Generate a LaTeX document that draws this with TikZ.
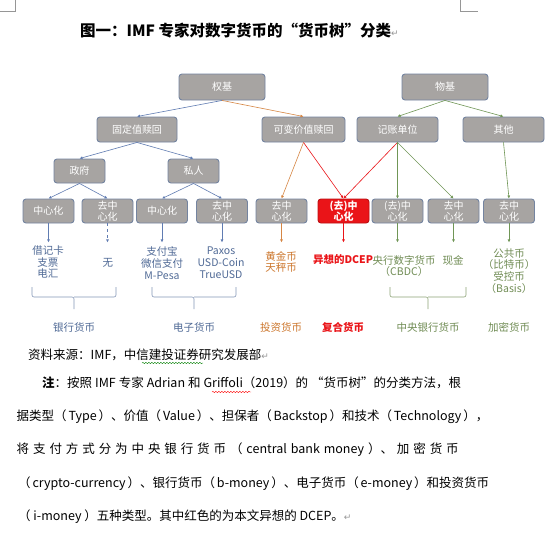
\documentclass[tikz,border=0pt]{standalone}
\usepackage{fontspec}
\setmainfont{Noto Sans CJK SC}
\newfontfamily\symfont{DejaVu Sans}
\usetikzlibrary{arrows.meta,decorations.pathmorphing}

\definecolor{boxfill}{RGB}{167,164,162}
\definecolor{boxline}{RGB}{116,132,160}
\definecolor{fixblue}{RGB}{96,124,178}
\definecolor{varorange}{RGB}{214,134,68}
\definecolor{dcepred}{RGB}{234,20,24}
\definecolor{goodsgreen}{RGB}{112,150,86}
\definecolor{bluetext}{RGB}{80,106,150}
\definecolor{orangetext}{RGB}{204,118,44}
\definecolor{greentext}{RGB}{112,140,84}
\definecolor{markgray}{RGB}{150,150,150}

\tikzset{
  tbox/.style={draw=boxline, fill=boxfill, rounded corners=3pt, line width=0.9pt,
    text=white, font=\fontsize{10}{11}\selectfont, align=center, inner sep=1pt,
    minimum width=51pt, minimum height=24pt},
  redbox/.style={tbox, draw=dcepred!80!black, fill=dcepred, font=\fontsize{10}{11}\bfseries},
  edge/.style={line width=0.6pt, -{Latex[length=3pt,width=3pt]}},
  leaf/.style={font=\fontsize{10.5}{11.8}\selectfont, align=center, inner sep=0pt},
  label/.style={font=\fontsize{10.5}{12}\selectfont, inner sep=0pt},
  brace/.style={line width=0.6pt, rounded corners=2pt},
  body/.style={font=\fontsize{12.5}{14}\selectfont, anchor=west, inner sep=0pt},
}

\begin{document}
\begin{tikzpicture}[x=1pt,y=-1pt]
\useasboundingbox[fill=white] (0,0) rectangle (550,538);
% page corner marks
\draw[markgray,line width=0.8pt] (15,0) -- (15,11) -- (0,11);
\draw[markgray,line width=0.8pt] (460,0) -- (460,11) -- (478,11);

\node[anchor=west,inner sep=0pt,font=\fontsize{15.5}{17}\bfseries] (title) at (80,31)
  {图一：IMF 专家对数字货币的“货币树”分类{\symfont\mdseries\fontsize{9}{9}\selectfont\color{markgray}↵}};

% tree
\node[tbox,minimum width=86pt,minimum height=26pt] (quanji) at (222,87) {权基};
\node[tbox,minimum width=86pt,minimum height=26pt] (wuji) at (445,87) {物基};

\node[tbox,minimum width=80pt,minimum height=25pt] (guding) at (137,129.5) {固定值赎回};
\node[tbox,minimum width=83pt,minimum height=25pt] (kebian) at (303.5,129.5) {可变价值赎回};
\node[tbox,minimum width=81pt,minimum height=25pt] (jizhang) at (397.5,129.5) {记账单位};
\node[tbox,minimum width=81pt,minimum height=25pt] (qita) at (503.5,129.5) {其他};

\node[tbox] (zhengfu) at (79.5,171) {政府};
\node[tbox] (siren) at (193.5,171) {私人};

\node[tbox] (d1) at (48.5,211) {中心化};
\node[tbox] (d2) at (107.5,211) {去中\\心化};
\node[tbox] (d3) at (162,211) {中心化};
\node[tbox] (d4) at (222,211) {去中\\心化};
\node[tbox] (d5) at (281.5,211) {去中\\心化};
\node[redbox] (d6) at (343.5,211) {(去)中\\心化};
\node[tbox] (d7) at (397.5,211) {(去)中\\心化};
\node[tbox] (d8) at (453.5,211) {去中\\心化};
\node[tbox] (d9) at (509,211) {去中\\心化};

\draw[edge,fixblue] (quanji.south) -- (guding.north);
\draw[edge,varorange] (quanji.south) -- (kebian.north);
\draw[edge,goodsgreen] (wuji.south) -- (jizhang.north);
\draw[edge,goodsgreen] (wuji.south) -- (qita.north);
\draw[edge,fixblue] (guding.south) -- (zhengfu.north);
\draw[edge,fixblue] (guding.south) -- (siren.north);
\draw[edge,fixblue] (zhengfu.south) -- (d1.north);
\draw[edge,fixblue] (zhengfu.south) -- (d2.north);
\draw[edge,fixblue] (siren.south) -- (d3.north);
\draw[edge,fixblue] (siren.south) -- (d4.north);
\draw[edge,varorange] (kebian.south) -- (d5.north);
\draw[edge,dcepred] (kebian.south) -- (d6.north);
\draw[edge,dcepred] (jizhang.south) -- (d6.north);
\draw[edge,goodsgreen] (jizhang.south) -- (d7.north);
\draw[edge,goodsgreen] (jizhang.south) -- (d8.north);
\draw[edge,goodsgreen] (qita.south) -- (d9.north);

% leaves
\foreach \n in {1,...,9} {
  \path (d\n.south) ++(0,19) coordinate (t\n);
}
\draw[edge,fixblue] (d1.south) -- (t1);
\draw[edge,fixblue,dashed] (d2.south) -- (t2);
\draw[edge,fixblue] (d3.south) -- (t3);
\draw[edge,fixblue] (d4.south) -- (t4);
\draw[edge,varorange] (d5.south) -- (t5);
\draw[edge,dcepred] (d6.south) -- (t6);
\draw[edge,goodsgreen] (d7.south) -- (t7);
\draw[edge,goodsgreen] (d8.south) -- (t8);
\draw[edge,goodsgreen] (d9.south) -- (t9);

\node[leaf,bluetext] (l1) at (48,262) {借记卡\\支票\\电汇};
\node[leaf,bluetext] (l2) at (108,263) {无};
\node[leaf,bluetext] (l3) at (162,263) {支付宝\\微信支付\\M-Pesa};
\node[leaf,bluetext] (l4) at (221,263) {Paxos\\USD-Coin\\TrueUSD};
\node[leaf,orangetext] (l5) at (281,262) {黄金币\\天秤币};
\node[leaf,dcepred,font=\fontsize{10.5}{11.8}\bfseries] (l6) at (343,260) {异想的DCEP};
\node[leaf,greentext] (l7) at (404,266) {央行数字货币\\（CBDC）};
\node[leaf,greentext] (l8) at (453,260) {现金};
\node[leaf,greentext] (l9) at (509,271) {公共币\\（比特币）\\受控币\\（Basis）};

% braces
\draw[brace,bluetext!70] (32,287) -- (32,297) -- (74,297) -- (74,309)
  (74,297) -- (116,297) -- (116,287);
\draw[brace,bluetext!70] (152,287) -- (152,297) -- (194,297) -- (194,309)
  (194,297) -- (236,297) -- (236,287);
\draw[brace,greentext!80] (390,287) -- (390,297) -- (428,297) -- (428,309)
  (428,297) -- (466,297) -- (466,287);

\node[label,bluetext] (bmoney) at (74,327) {银行货币};
\node[label,bluetext] (emoney) at (194,327) {电子货币};
\node[label,orangetext] (imoney) at (281,327) {投资货币};
\node[label,dcepred,font=\fontsize{10.5}{12}\bfseries] (mixed) at (343,327) {复合货币};
\node[label,greentext] (cbmoney) at (428,327) {中央银行货币};
\node[label,greentext] (crypto) at (509,327) {加密货币};

% source and note
\node[body] (source) at (28,355)
  {资料来源：IMF，中信建投证券研究发展部{\symfont\fontsize{9}{9}\selectfont\color{markgray}↵}};
\draw[green!50!black,line width=0.4pt,decorate,decoration={snake,amplitude=0.7pt,segment length=3pt}]
  (142,363) -- (203,363);

\node[body] (note1) at (42,383)
  {\makebox[419pt][s]{{\bfseries 注}：按照 IMF 专家 Adrian 和 Griffoli（2019）的 “货币树”的分类方法，根}};
\draw[red,line width=0.4pt,decorate,decoration={snake,amplitude=0.7pt,segment length=3pt}]
  (212,392) -- (251,392);
\node[body] (note2) at (16.5,416.5)
  {\makebox[441pt][s]{据类型（ Type ）、价值（ Value ）、担保者（ Backstop ）和技术（ Technology ），}};
\node[body] (note3) at (16.5,450)
  {\makebox[442pt][s]{将 支 付 方 式 分 为 中 央 银 行 货 币 （ central bank money ）、 加 密 货 币}};
\node[body] (note4) at (18,483.5)
  {\makebox[440pt][s]{（ crypto-currency ）、银行货币（ b-money ）、电子货币（ e-money ）和投资货币}};
\node[body] (note5) at (18,517)
  {（ i-money ）五种类型。其中红色的为本文异想的 DCEP。{\symfont\fontsize{9}{9}\selectfont\color{markgray}↵}};
\end{tikzpicture}
\end{document}
